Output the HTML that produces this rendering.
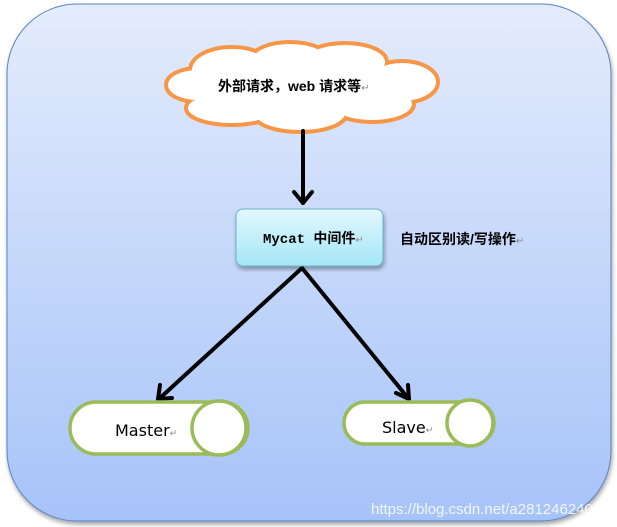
<!DOCTYPE html>
<html><head><meta charset="utf-8"><style>
html,body{margin:0;padding:0;background:#fff;width:617px;height:527px;overflow:hidden}
</style></head><body>
<svg width="617" height="527" viewBox="0 0 617 527" xmlns="http://www.w3.org/2000/svg">
<defs>
<linearGradient id="bg" x1="0" y1="0" x2="0" y2="1">
<stop offset="0" stop-color="#e4ecfc"/><stop offset="1" stop-color="#a6c3f8"/></linearGradient>
<linearGradient id="bx" x1="0" y1="0" x2="0" y2="1">
<stop offset="0" stop-color="#e2f8fd"/><stop offset="1" stop-color="#a4e6f7"/></linearGradient>
<filter id="sh"><feDropShadow dx="1" dy="3" stdDeviation="2" flood-color="#000" flood-opacity="0.35"/></filter>
</defs>
<rect x="7" y="4" width="604" height="517" rx="70" fill="url(#bg)" stroke="#5b82c2" stroke-width="1" filter="url(#sh)"/>
<g stroke="#f79646" stroke-width="8" fill="#fff">
<ellipse cx="198" cy="85" rx="30" ry="15"/>
<ellipse cx="232" cy="70" rx="40" ry="21"/>
<ellipse cx="290" cy="61" rx="38" ry="17"/>
<ellipse cx="345" cy="62" rx="40" ry="17"/>
<ellipse cx="402" cy="82" rx="34" ry="19"/>
<ellipse cx="372" cy="104" rx="40" ry="16"/>
<ellipse cx="300" cy="113" rx="45" ry="17"/>
<ellipse cx="232" cy="108" rx="44" ry="15"/>
</g>
<g fill="#fff">
<ellipse cx="198" cy="85" rx="30" ry="15"/>
<ellipse cx="232" cy="70" rx="40" ry="21"/>
<ellipse cx="290" cy="61" rx="38" ry="17"/>
<ellipse cx="345" cy="62" rx="40" ry="17"/>
<ellipse cx="402" cy="82" rx="34" ry="19"/>
<ellipse cx="372" cy="104" rx="40" ry="16"/>
<ellipse cx="300" cy="113" rx="45" ry="17"/>
<ellipse cx="232" cy="108" rx="44" ry="15"/>
<rect x="210" y="70" width="190" height="40"/>
</g>
<text x="218" y="91" font-family="Liberation Sans,'Noto Sans CJK SC',sans-serif" font-size="14" font-weight="bold">外部请求，web 请求等<tspan fill="#888" font-weight="normal" font-size="10">↵</tspan></text>
<g stroke="#000" stroke-width="4" fill="none" stroke-linecap="round" stroke-linejoin="round">
<line x1="303" y1="131" x2="303" y2="203"/>
<polyline points="294,192 303,203 312,192"/>
<line x1="302" y1="268" x2="160" y2="398"/>
<polyline points="160,385 158,399 172,398"/>
<line x1="302" y1="268" x2="408" y2="398"/>
<polyline points="396,393 409,399 408,385"/>
</g>
<rect x="236" y="209" width="147" height="57" rx="7" fill="url(#bx)" stroke="#6ab4ca" stroke-width="1" filter="url(#sh)"/>
<text x="263" y="243" font-family="Liberation Mono,'Noto Sans CJK SC',monospace" font-size="14" font-weight="bold">Mycat 中间件<tspan fill="#888" font-weight="normal" font-size="10">↵</tspan></text>
<text x="400" y="244" font-family="Liberation Sans,'Noto Sans CJK SC',sans-serif" font-size="14" font-weight="bold">自动区别读/写操作<tspan fill="#888" font-weight="normal" font-size="10">↵</tspan></text>
<g stroke="#9bbb59" stroke-width="3.5" fill="#fff">
<rect x="70" y="402" width="178" height="52" rx="26"/>
<circle cx="219" cy="428" r="27"/>
<rect x="344" y="402" width="150" height="42" rx="21"/>
<circle cx="470" cy="423" r="23"/>
</g>
<text x="115" y="436" font-family="'DejaVu Sans',sans-serif" font-size="16">Master<tspan fill="#888" font-size="9">↵</tspan></text>
<text x="382" y="433" font-family="'DejaVu Sans',sans-serif" font-size="16">Slave<tspan fill="#888" font-size="9">↵</tspan></text>
<text x="371" y="514" font-family="Liberation Sans,sans-serif" font-size="15" fill="#fff" fill-opacity="0.85">https://blog.csdn.net/a281246240</text>
</svg>
</body></html>
